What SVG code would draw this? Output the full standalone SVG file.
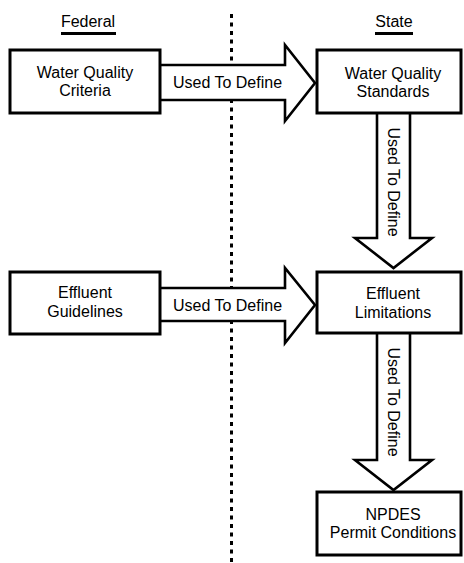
<svg xmlns="http://www.w3.org/2000/svg" width="464" height="563" viewBox="0 0 464 563">
<style>
text{font-family:"Liberation Sans",Arial,sans-serif;font-size:16px;fill:#000;text-anchor:middle}
.box{fill:#fff;stroke:#000;stroke-width:3}
.arr{fill:#fff;stroke:#000;stroke-width:2.6;stroke-linejoin:miter}
.ul{stroke:#000;stroke-width:3}
</style>
<rect width="464" height="563" fill="#fff"/>
<g id="divider">
<line x1="231.5" y1="14" x2="231.5" y2="563" stroke="#000" stroke-width="3" stroke-dasharray="4 4.5"/>
</g>
<g id="header-federal">
<text x="88" y="27">Federal</text>
<line class="ul" x1="61" y1="33.5" x2="116" y2="33.5"/>
</g>
<g id="header-state">
<text x="394" y="27">State</text>
<line class="ul" x1="375" y1="33.5" x2="413" y2="33.5"/>
</g>
<g id="connectors">
<path class="arr" d="M160,65 H285 V45 L315,83 L285,121 V100 H160"/>
<text x="227.5" y="88">Used To Define</text>
<path class="arr" d="M160,288 H285 V268 L315,305 L285,343 V321 H160"/>
<text x="227.5" y="311">Used To Define</text>
<path class="arr" d="M377,113 V238 H355 L393.5,268 L432,238 H410 V113"/>
<text transform="translate(388,182) rotate(90)">Used To Define</text>
<path class="arr" d="M377,333 V460 H355 L393.5,490 L432,460 H410 V333"/>
<text transform="translate(388,402) rotate(90)">Used To Define</text>
</g>
<g id="wqc">
<rect class="box" x="10" y="50" width="150" height="63"/>
<text x="85" y="77.5">Water Quality</text>
<text x="85" y="95.5">Criteria</text>
</g>
<g id="wqs">
<rect class="box" x="317" y="50" width="144" height="63"/>
<text x="393" y="79">Water Quality</text>
<text x="393" y="97">Standards</text>
</g>
<g id="eg">
<rect class="box" x="10" y="272" width="150" height="62"/>
<text x="85" y="298">Effluent</text>
<text x="85" y="317">Guidelines</text>
</g>
<g id="el">
<rect class="box" x="317" y="272" width="144" height="61"/>
<text x="393" y="299">Effluent</text>
<text x="393" y="318">Limitations</text>
</g>
<g id="npdes">
<rect class="box" x="317" y="492" width="144" height="63"/>
<text x="393" y="520">NPDES</text>
<text x="393" y="538">Permit Conditions</text>
</g>
</svg>
